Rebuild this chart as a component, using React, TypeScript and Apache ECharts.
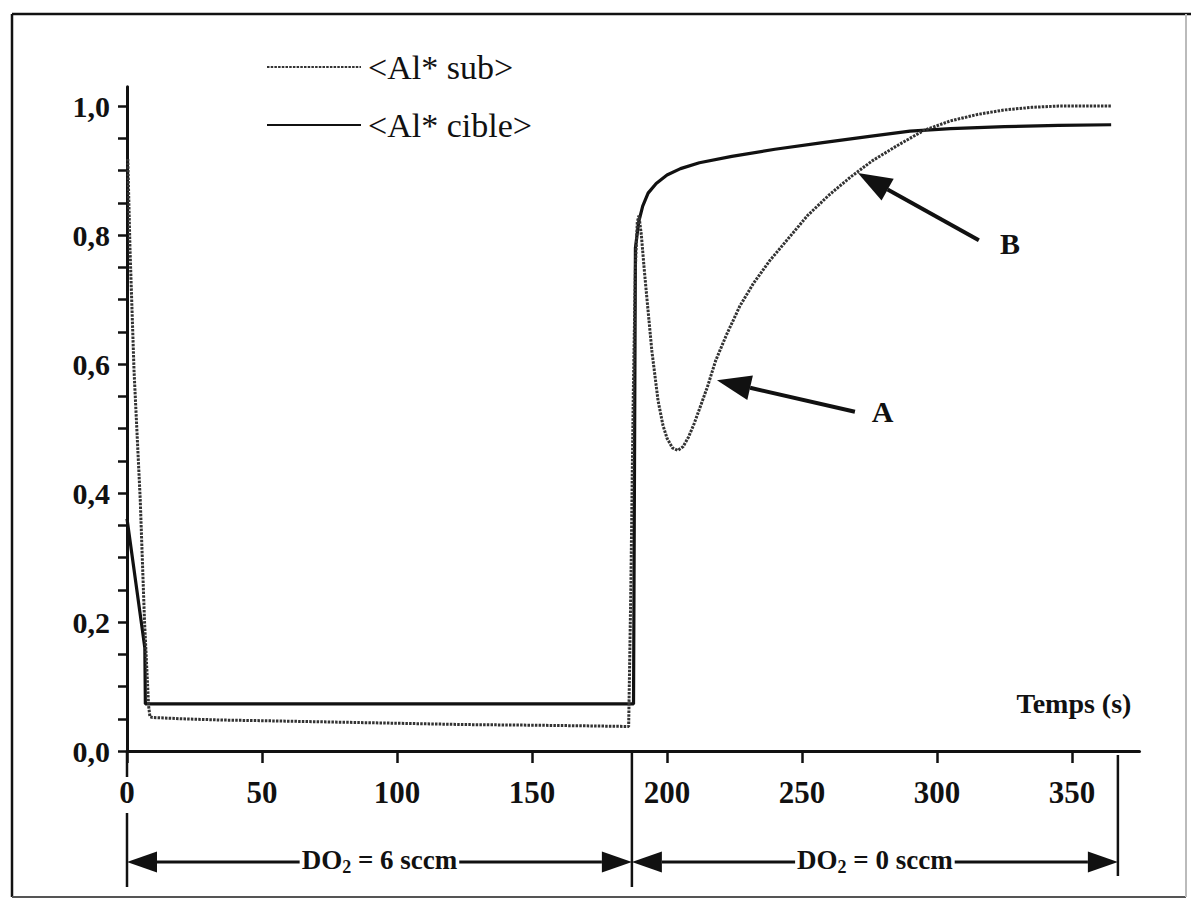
import React, { useEffect, useRef } from 'react';
import * as echarts from 'echarts';

const FONT = '"Liberation Serif", "Times New Roman", Times, serif';

// ---- data (time in s, normalised value) ----
const seriesNames = ['<Al* sub>', '<Al* cible>'];

const subTime = [0.3, 1.1, 2.6, 4.9, 6.5, 8.0, 8.5, 9.5, 20, 35, 50, 75, 100, 125, 150, 170,
  185.8, 186.6, 187.5, 188.3, 189, 189.6, 190.5, 191.5, 192.6, 194.4, 196.7, 198.5, 200, 202, 204,
  206, 208, 210, 212, 215, 218, 222, 227, 232, 238, 245, 252, 260, 268, 276, 285, 295, 305, 315,
  325, 335, 345, 355, 364.5];
const subValue = [0.918, 0.78, 0.59, 0.39, 0.2, 0.07, 0.053, 0.052, 0.05, 0.048, 0.047, 0.045,
  0.043, 0.041, 0.04, 0.039, 0.038, 0.25, 0.55, 0.75, 0.82, 0.83, 0.8, 0.75, 0.7, 0.62, 0.543,
  0.505, 0.485, 0.47, 0.466, 0.472, 0.487, 0.507, 0.53, 0.565, 0.605, 0.645, 0.69, 0.725, 0.76,
  0.795, 0.83, 0.862, 0.89, 0.915, 0.938, 0.962, 0.977, 0.987, 0.994, 0.998, 1.0, 1.0, 1.0];

const cibleTime = [0, 6.6, 6.8, 50, 100, 150, 187.6, 188.3, 189.5, 191, 193, 196, 200, 205, 212,
  224, 240, 257, 275, 290, 305, 325, 345, 364.5];
const cibleValue = [0.36, 0.16, 0.073, 0.073, 0.073, 0.073, 0.073, 0.78, 0.82, 0.845, 0.865, 0.88,
  0.893, 0.903, 0.912, 0.922, 0.933, 0.943, 0.953, 0.961, 0.965, 0.968, 0.97, 0.971];

// ---- axes ----
const xTicks = [0, 50, 100, 150, 200, 250, 300, 350];
const yLabels = [0, 0.2, 0.4, 0.6, 0.8, 1.0];
const yTicks = [0, 0.05, 0.1, 0.15, 0.2, 0.25, 0.3, 0.35, 0.4, 0.45, 0.5, 0.55, 0.6, 0.65, 0.7,
  0.75, 0.8, 0.85, 0.9, 0.95, 1.0];
const xName = 'Temps (s)';
const xNameAt = [372, 0.074];

// ---- annotations ----
const phaseBounds = [0, 187, 367];
const phaseFlows = ['6', '0'];
// [tipT, tipV, tailT, tailV, labelT, labelV, label]
const callouts: [number, number, number, number, number, number, string][] = [
  [218.5, 0.575, 269.6, 0.526, 279.8, 0.526, 'A'],
  [270.7, 0.896, 315.5, 0.792, 327, 0.787, 'B'],
];

function zip(a: number[], b: number[]) {
  return a.map((t, i) => [t, b[i]]);
}

function arrowHead(tip: number[], tail: number[], len: number, w: number) {
  const dx = tip[0] - tail[0];
  const dy = tip[1] - tail[1];
  const d = Math.hypot(dx, dy) || 1;
  const ux = dx / d, uy = dy / d;
  const bx = tip[0] - ux * len, by = tip[1] - uy * len;
  const nx = -uy, ny = ux;
  return {
    base: [bx, by],
    points: [tip, [bx + nx * w / 2, by + ny * w / 2], [bx - nx * w / 2, by - ny * w / 2]],
  };
}

export default function App() {
  const ref = useRef<HTMLDivElement>(null);

  useEffect(() => {
    const el = ref.current;
    if (!el) return;
    const chart = echarts.init(el, null, { renderer: 'svg' });

    const option: any = {
      animation: false,
      backgroundColor: '#ffffff',
      grid: { left: 127, right: 51.5, top: 86.7, bottom: 155, containLabel: false },
      legend: {
        orient: 'vertical',
        left: 261,
        top: 45,
        itemWidth: 94,
        itemHeight: 14,
        itemGap: 24,
        itemStyle: { opacity: 0 },
        textStyle: { fontFamily: FONT, fontSize: 34, color: '#111', padding: [0, 0, 0, 2] },
        data: seriesNames,
      },
      xAxis: {
        type: 'value',
        min: 0,
        max: 375,
        axisLine: { show: true, lineStyle: { color: '#111', width: 3 } },
        axisTick: { show: true, length: 12, customValues: xTicks, lineStyle: { color: '#111', width: 2.5 } },
        axisLabel: {
          customValues: xTicks,
          margin: 26,
          fontFamily: FONT,
          fontWeight: 'bold',
          fontSize: 31,
          color: '#111',
        },
        splitLine: { show: false },
      },
      yAxis: {
        type: 'value',
        min: 0,
        max: 1.03,
        axisLine: { show: true, lineStyle: { color: '#111', width: 3 } },
        axisTick: { show: true, length: 9, customValues: yTicks, lineStyle: { color: '#111', width: 2.5 } },
        axisLabel: {
          customValues: yLabels,
          margin: 17,
          fontFamily: FONT,
          fontWeight: 'bold',
          fontSize: 30,
          color: '#111',
          formatter: (v: number) => v.toFixed(1).replace('.', ','),
        },
        splitLine: { show: false },
      },
      series: [
        {
          name: seriesNames[1],
          type: 'line',
          data: zip(cibleTime, cibleValue),
          symbol: 'none',
          showSymbol: false,
          lineStyle: { color: '#111', width: 3.2 },
          itemStyle: { color: '#111' },
          z: 2,
        },
        {
          name: seriesNames[0],
          type: 'line',
          data: zip(subTime, subValue),
          symbol: 'none',
          showSymbol: false,
          lineStyle: { color: '#333', width: 3, type: [2.5, 1.2] },
          itemStyle: { color: '#333' },
          z: 3,
        },
      ],
    };
    chart.setOption(option);

    const px = (t: number, v: number) => chart.convertToPixel({ gridIndex: 0 }, [t, v]) as number[];
    const g: any[] = [];
    const black = '#111';

    // frame
    g.push({ type: 'line', shape: { x1: 12, y1: 14, x2: 1191, y2: 14 }, style: { stroke: black, lineWidth: 2.5 }, silent: true });
    g.push({ type: 'line', shape: { x1: 12, y1: 14, x2: 12, y2: 897 }, style: { stroke: black, lineWidth: 2.5 }, silent: true });
    g.push({ type: 'line', shape: { x1: 12, y1: 897, x2: 1186, y2: 897 }, style: { stroke: '#555', lineWidth: 2 }, silent: true });
    g.push({ type: 'line', shape: { x1: 1186, y1: 14, x2: 1186, y2: 897 }, style: { stroke: '#bbb', lineWidth: 2 }, silent: true });

    // x-axis name
    const nm = px(xNameAt[0], xNameAt[1]);
    g.push({
      type: 'text', x: nm[0], y: nm[1], z: 10,
      style: { text: xName, fontFamily: FONT, fontWeight: 'bold', fontSize: 28, fill: black, align: 'right', verticalAlign: 'middle' },
    });

    // phase bound lines and double arrows
    const y0 = px(0, 0)[1];
    const bx = phaseBounds.map((t) => px(t, 0)[0]);
    g.push({ type: 'line', shape: { x1: bx[0], y1: y0, x2: bx[0], y2: y0 + 26 }, style: { stroke: black, lineWidth: 2.5 } });
    g.push({ type: 'line', shape: { x1: bx[0], y1: y0 + 62, x2: bx[0], y2: y0 + 136 }, style: { stroke: black, lineWidth: 2.5 } });
    g.push({ type: 'line', shape: { x1: bx[1], y1: y0, x2: bx[1], y2: y0 + 136 }, style: { stroke: black, lineWidth: 2.5 } });
    g.push({ type: 'line', shape: { x1: bx[2], y1: y0 + 4, x2: bx[2], y2: y0 + 125 }, style: { stroke: black, lineWidth: 2.5 } });

    const ay = y0 + 111;
    for (let i = 0; i < 2; i++) {
      const xa = bx[i], xb = bx[i + 1];
      const hl = arrowHead([xa, ay], [xb, ay], 30, 21);
      const hr = arrowHead([xb, ay], [xa, ay], 30, 21);
      g.push({ type: 'line', shape: { x1: hl.base[0], y1: ay, x2: hr.base[0], y2: ay }, style: { stroke: black, lineWidth: 3 }, z: 5 });
      g.push({ type: 'polygon', shape: { points: hl.points }, style: { fill: black }, z: 5 });
      g.push({ type: 'polygon', shape: { points: hr.points }, style: { fill: black }, z: 5 });
      g.push({
        type: 'text', x: (xa + xb) / 2, y: ay - 2, z: 8,
        style: {
          text: `{n|DO}{s|2}{n| = ${phaseFlows[i]} sccm}`,
          align: 'center', verticalAlign: 'middle',
          backgroundColor: '#fff', padding: [0, 2, 0, 2],
          rich: {
            n: { fontFamily: FONT, fontWeight: 'bold', fontSize: 27, lineHeight: 32, fill: black },
            s: { fontFamily: FONT, fontWeight: 'bold', fontSize: 18, lineHeight: 18, verticalAlign: 'bottom', fill: black },
          },
        },
      });
    }

    // callout arrows A / B
    callouts.forEach(([tt, tv, lt, lv, xt, xv, lab]) => {
      const tip = px(tt, tv);
      const tail = px(lt, lv);
      const h = arrowHead(tip, tail, 34, 25);
      g.push({ type: 'line', shape: { x1: tail[0], y1: tail[1], x2: h.base[0], y2: h.base[1] }, style: { stroke: black, lineWidth: 4 }, z: 6 });
      g.push({ type: 'polygon', shape: { points: h.points }, style: { fill: black }, z: 6 });
      const lp = px(xt, xv);
      g.push({
        type: 'text', x: lp[0], y: lp[1], z: 6,
        style: { text: lab, fontFamily: FONT, fontWeight: 'bold', fontSize: 30, fill: black, align: 'center', verticalAlign: 'middle' },
      });
    });

    chart.setOption({ graphic: g });

    return () => {
      chart.dispose();
    };
  }, []);

  return (
    <div
      ref={ref}
      style={{ position: 'fixed', left: 0, top: 0, width: 1191, height: 906, background: '#fff' }}
    />
  );
}
